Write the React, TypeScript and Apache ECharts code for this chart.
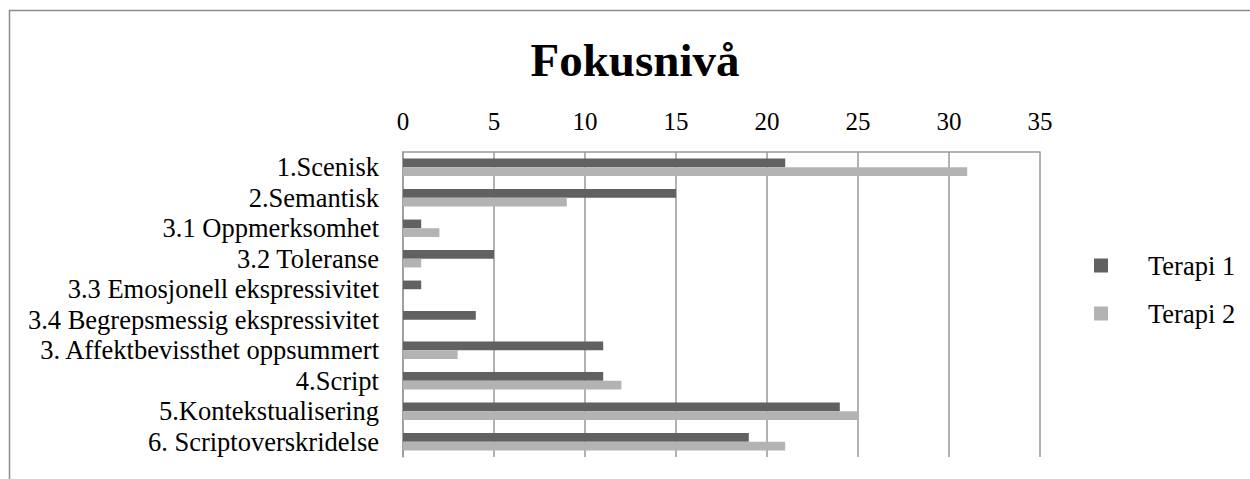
import React, { useEffect, useRef } from "react";
import * as echarts from "echarts";

const categories = [
  "1.Scenisk",
  "2.Semantisk",
  "3.1 Oppmerksomhet",
  "3.2 Toleranse",
  "3.3 Emosjonell ekspressivitet",
  "3.4 Begrepsmessig ekspressivitet",
  "3. Affektbevissthet oppsummert",
  "4.Script",
  "5.Kontekstualisering",
  "6. Scriptoverskridelse",
];
const terapi1 = [21, 15, 1, 5, 1, 4, 11, 11, 24, 19];
const terapi2 = [31, 9, 2, 1, 0, 0, 3, 12, 25, 21];
const seriesNames = ["Terapi 1", "Terapi 2"];
const titleText = "Fokusnivå";

const FONT = "'Liberation Serif', 'Times New Roman', serif";

export default function App() {
  const ref = useRef<HTMLDivElement>(null);
  useEffect(() => {
    if (!ref.current) return;
    const chart = echarts.init(ref.current, undefined, { renderer: "svg" });
    chart.setOption({
      animation: false,
      backgroundColor: "#ffffff",
      textStyle: { fontFamily: FONT },
      title: {
        text: titleText,
        left: 630,
        top: 31,
        textAlign: "center",
        textStyle: { fontFamily: FONT, fontSize: 47, fontWeight: "bold", color: "#000" },
      },
      graphic: [
        {
          type: "rect",
          shape: { x: 9.5, y: 10.5, width: 1400, height: 600 },
          style: { fill: "none", stroke: "#8c8c8c", lineWidth: 1.5 },
          silent: true,
        },
      ],
      legend: {
        orient: "vertical",
        left: 1089,
        top: 247,
        itemWidth: 14,
        itemHeight: 14,
        itemGap: 21,
        icon: "rect",
        data: seriesNames,
        textStyle: { fontFamily: FONT, fontSize: 26.5, color: "#000", padding: [0, 0, 0, 35] },
      },
      grid: { left: 403, top: 152, right: 210, bottom: 22, containLabel: false },
      xAxis: {
        type: "value",
        position: "top",
        min: 0,
        max: 35,
        interval: 5,
        axisLine: { show: true, lineStyle: { color: "#999", width: 1.5 } },
        axisTick: { show: false },
        splitLine: { show: true, lineStyle: { color: "#999", width: 1.5 } },
        axisLabel: { fontFamily: FONT, fontSize: 25, color: "#000", margin: 18 },
      },
      yAxis: {
        type: "category",
        data: categories,
        inverse: true,
        axisLine: { show: true, lineStyle: { color: "#999", width: 1.5 } },
        axisTick: { show: false },
        axisLabel: {
          interval: 0,
          hideOverlap: false,
          fontFamily: FONT,
          fontSize: 26.5,
          color: "#000",
          margin: 24,
        },
      },
      series: [
        {
          name: seriesNames[0],
          type: "bar",
          data: terapi1,
          itemStyle: { color: "#616161" },
          barGap: "0%",
          barCategoryGap: "43%",
        },
        {
          name: seriesNames[1],
          type: "bar",
          data: terapi2,
          itemStyle: { color: "#b3b3b3" },
          barGap: "0%",
          barCategoryGap: "43%",
        },
      ],
    });
    return () => chart.dispose();
  }, []);
  return (
    <div
      ref={ref}
      style={{ position: "fixed", left: 0, top: 0, width: 1250, height: 479 }}
    />
  );
}
